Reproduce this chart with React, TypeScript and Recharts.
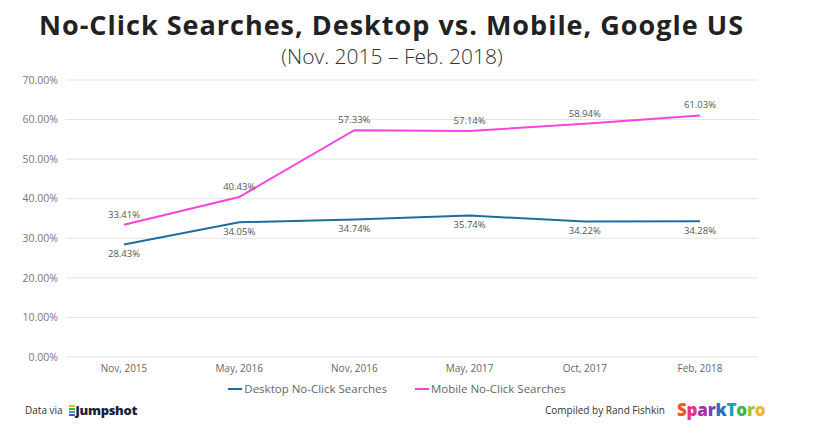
import React from "react";
import {
  LineChart,
  Line,
  XAxis,
  YAxis,
  CartesianGrid,
  LabelList,
} from "recharts";

const categories = ["Nov, 2015", "May, 2016", "Nov, 2016", "May, 2017", "Oct, 2017", "Feb, 2018"];
const desktopValues = [28.43, 34.05, 34.74, 35.74, 34.22, 34.28];
const mobileValues = [33.41, 40.43, 57.33, 57.14, 58.94, 61.03];
const yTicks = [0, 10, 20, 30, 40, 50, 60, 70];

const DESKTOP = "#1d6e9c";
const MOBILE = "#f744dc";
const FONT = "'Open Sans', 'DejaVu Sans', sans-serif";

const sparkLetters = [
  { ch: "S", color: "#f2572b" },
  { ch: "p", color: "#e8308a" },
  { ch: "a", color: "#b02ba8" },
  { ch: "r", color: "#7a3cb8" },
  { ch: "k", color: "#2d6fc4" },
  { ch: "T", color: "#1aa3b8" },
  { ch: "o", color: "#3cb54a" },
  { ch: "r", color: "#9bc63b" },
  { ch: "o", color: "#f2b52a" },
];

export default function App() {
  // tabla que usa recharts
  const data = categories.map((name, i) => ({
    name,
    desktop: desktopValues[i],
    mobile: mobileValues[i],
  }));

  const pct = (v: any) => `${Number(v).toFixed(2)}%`;

  return (
    <div
      style={{
        position: "absolute",
        left: 0,
        top: 0,
        width: 820,
        height: 437,
        background: "#fff",
        fontFamily: FONT,
        overflow: "hidden",
      }}
    >
      <div
        style={{
          position: "absolute",
          top: 10,
          left: 0,
          width: 783,
          textAlign: "center",
          fontSize: 27,
          lineHeight: "30px",
          fontWeight: 700,
          color: "#222",
          letterSpacing: 1,
        }}
      >
        No-Click Searches, Desktop vs. Mobile, Google US
      </div>
      <div
        style={{
          position: "absolute",
          top: 45,
          left: 0,
          width: 784,
          textAlign: "center",
          fontSize: 21,
          lineHeight: "22px",
          fontWeight: 300,
          color: "#333",
        }}
      >
        (Nov. 2015 – Feb. 2018)
      </div>

      <div style={{ position: "absolute", left: 0, top: 0 }}>
        <LineChart
          width={820}
          height={437}
          data={data}
          margin={{ top: 80, right: 62, bottom: 50, left: 0 }}
        >
          <CartesianGrid vertical={false} stroke="#e3e3e3" />
          <XAxis
            dataKey="name"
            axisLine={false}
            tickLine={false}
            height={30}
            padding={{ left: 58, right: 58 }}
            tick={{ fill: "#666", fontSize: 10, fontFamily: FONT }}
          />
          <YAxis
            width={66}
            domain={[0, 70]}
            ticks={yTicks}
            axisLine={false}
            tickLine={false}
            tickFormatter={pct}
            tick={{ fill: "#777", fontSize: 10.5, fontFamily: FONT }}
          />
          <Line
            dataKey="desktop"
            stroke={DESKTOP}
            strokeWidth={2}
            dot={false}
            isAnimationActive={false}
          >
            <LabelList
              dataKey="desktop"
              position="bottom"
              offset={6}
              formatter={pct}
              style={{ fill: "#555", fontSize: 9.5, fontFamily: FONT }}
            />
          </Line>
          <Line
            dataKey="mobile"
            stroke={MOBILE}
            strokeWidth={2}
            dot={false}
            isAnimationActive={false}
          >
            <LabelList
              dataKey="mobile"
              position="top"
              offset={7}
              formatter={pct}
              style={{ fill: "#555", fontSize: 9.5, fontFamily: FONT }}
            />
          </Line>
        </LineChart>
      </div>

      {/* legend */}
      <div
        style={{
          position: "absolute",
          top: 381,
          left: 0,
          width: 820,
          display: "flex",
          justifyContent: "center",
          gap: 28,
          fontSize: 11.5,
          color: "#666",
          paddingRight: 26,
          boxSizing: "border-box",
        }}
      >
        {[
          { label: "Desktop No-Click Searches", color: DESKTOP },
          { label: "Mobile No-Click Searches", color: MOBILE },
        ].map((item) => (
          <div key={item.label} style={{ display: "flex", alignItems: "center" }}>
            <span
              style={{
                display: "inline-block",
                width: 14,
                height: 2,
                background: item.color,
                marginRight: 2,
              }}
            />
            {item.label}
          </div>
        ))}
      </div>

      {/* footer */}
      <div
        style={{
          position: "absolute",
          top: 401,
          left: 25,
          display: "flex",
          alignItems: "center",
          fontSize: 10,
          color: "#333",
        }}
      >
        Data via
        <span style={{ display: "inline-flex", flexDirection: "column", gap: 1, marginLeft: 6, marginRight: 1 }}>
          <span style={{ width: 6, height: 2, background: "#f2b52a" }} />
          <span style={{ width: 6, height: 2, background: "#3cb54a" }} />
          <span style={{ width: 6, height: 2, background: "#2d9fd8" }} />
          <span style={{ width: 6, height: 2, background: "#7a3cb8" }} />
        </span>
        <span style={{ fontSize: 13, fontWeight: 800, color: "#1b1f3b", letterSpacing: -0.3 }}>
          jumpshot
        </span>
      </div>
      <div
        style={{
          position: "absolute",
          top: 398,
          left: 545,
          display: "flex",
          alignItems: "center",
          fontSize: 10,
          color: "#333",
        }}
      >
        Compiled by Rand Fishkin
        <span style={{ marginLeft: 12, fontSize: 17, fontWeight: 800, letterSpacing: -0.2 }}>
          {sparkLetters.map((l, i) => (
            <span key={i} style={{ color: l.color }}>
              {l.ch}
            </span>
          ))}
        </span>
      </div>
    </div>
  );
}
